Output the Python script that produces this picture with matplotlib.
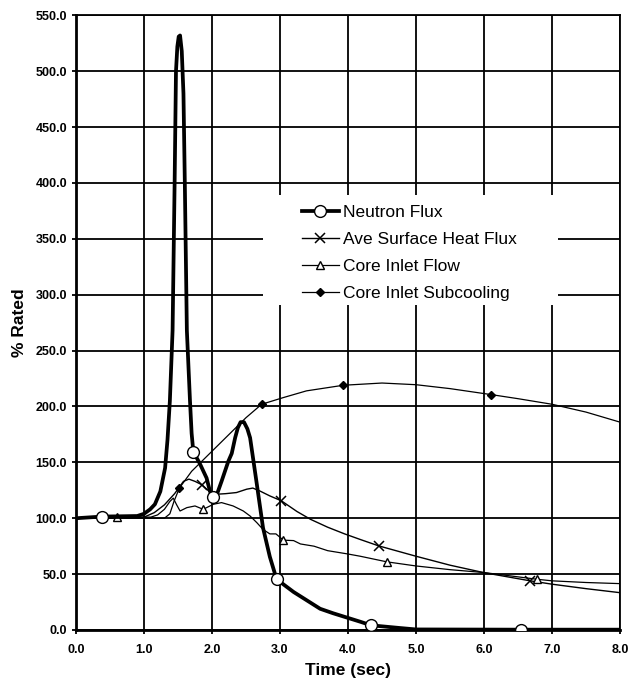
import matplotlib
matplotlib.use("Agg")
import matplotlib.pyplot as plt
from matplotlib.ticker import FormatStrFormatter, MultipleLocator
from matplotlib.patches import Rectangle
import numpy as np

plt.rcParams['font.family'] = ['Liberation Sans', 'DejaVu Sans']

# ---- data ----
flux_t = [0, 0.38, 0.9, 1.0, 1.09, 1.16, 1.24, 1.31, 1.345, 1.38, 1.42, 1.45, 1.47, 1.49,
          1.51, 1.53, 1.555, 1.58, 1.60, 1.63, 1.676, 1.70, 1.725, 1.82, 1.92, 1.97, 2.02,
          2.07, 2.14, 2.24, 2.29, 2.34, 2.38, 2.42, 2.47, 2.52, 2.56, 2.66, 2.75, 2.85, 2.95,
          3.2, 3.59, 3.78, 4.18, 4.34, 4.76, 5.0, 6.55, 8.0]
flux_v = [100, 101.5, 102, 104, 108, 112.5, 124, 145, 170, 205, 268, 400, 500, 522,
          531, 532, 518, 480, 400, 268, 205, 176, 159.5, 149, 136, 124, 119,
          121, 133, 151, 158, 172, 181, 186, 186, 180, 172, 130, 91.5, 65.6, 45.4,
          34, 19, 15, 7.4, 4.2, 1.8, 0.5, 0.3, 0.3]
flux_marks = [0.38, 1.725, 2.02, 2.95, 4.34, 6.55]

heat_t = [0, 1.0, 1.15, 1.3, 1.45, 1.58, 1.66, 1.75, 1.85, 1.95, 2.07, 2.2, 2.36, 2.51,
          2.6, 2.7, 2.85, 3.02, 3.25, 3.45, 3.7, 3.95, 4.18, 4.45, 5.0, 5.5, 6.0, 6.68,
          7.0, 7.5, 8.0]
heat_v = [100, 101, 105, 112, 122, 133, 135, 133, 130, 124.5, 121.5, 122, 123, 126,
          127, 124.5, 120, 115.6, 106, 99, 92, 86, 81, 75.3, 66, 58, 51.3, 44,
          41, 37, 33.4]
heat_marks = [1.85, 3.02, 4.45, 6.68]

flow_t = [0, 0.6, 1.1, 1.2, 1.3, 1.38, 1.43, 1.48, 1.53, 1.63, 1.75, 1.87, 2.02, 2.14,
          2.31, 2.46, 2.56, 2.66, 2.75, 2.85, 2.94, 3.05, 3.2, 3.3, 3.5, 3.7, 4.0, 4.18,
          4.57, 5.0, 5.5, 6.0, 6.78, 7.0, 7.5, 8.0]
flow_v = [100, 101, 101, 103, 108, 115, 118, 112, 106.5, 109.5, 111, 108, 112.5, 114,
          111, 106.5, 102, 96, 90, 86, 86, 80.4, 80, 77, 75, 71, 68, 66,
          61, 57.3, 54, 51.4, 45.4, 44, 42.5, 41.5]
flow_marks = [0.6, 1.87, 3.05, 4.57, 6.78]

sub_t = [0, 1.3, 1.38, 1.44, 1.52, 1.7, 2.0, 2.3, 2.5, 2.73, 3.05, 3.39, 3.93, 4.5, 5.0,
         5.5, 6.11, 6.5, 7.0, 7.5, 8.0]
sub_v = [100, 100, 104, 115, 127, 142, 160, 178, 190, 202, 208, 214, 219, 221, 219.5,
         216, 210.6, 207, 202, 195, 186]
sub_marks = [1.52, 2.73, 3.93, 6.11]

labels = ["Neutron Flux", "Ave Surface Heat Flux", "Core Inlet Flow", "Core Inlet Subcooling"]


def idx(ts, marks):
    return [int(np.argmin(np.abs(np.array(ts) - m))) for m in marks]


fig = plt.figure(figsize=(6.32, 6.83), dpi=100)
ax = fig.add_axes([0.1203, 0.0776, 0.981 - 0.1203, 0.9775 - 0.0776])

ax.plot(flux_t, flux_v, color='black', lw=2.7, marker='o', markersize=8.5,
        markerfacecolor='white', markeredgecolor='black', markeredgewidth=1.0,
        markevery=idx(flux_t, flux_marks), label=labels[0], zorder=5)
ax.plot(heat_t, heat_v, color='black', lw=1.0, marker='x', markersize=7,
        markeredgewidth=1.1, markevery=idx(heat_t, heat_marks), label=labels[1], zorder=4)
ax.plot(flow_t, flow_v, color='black', lw=0.9, marker='^', markersize=6,
        markerfacecolor='white', markeredgecolor='black', markeredgewidth=1.0,
        markevery=idx(flow_t, flow_marks), label=labels[2], zorder=4)
ax.plot(sub_t, sub_v, color='black', lw=0.9, marker='D', markersize=4.5,
        markerfacecolor='black', markevery=idx(sub_t, sub_marks), label=labels[3], zorder=4)

ax.set_xlim(0, 8)
ax.set_ylim(0, 550)
ax.xaxis.set_major_locator(MultipleLocator(1.0))
ax.yaxis.set_major_locator(MultipleLocator(50))
ax.xaxis.set_major_formatter(FormatStrFormatter('%.1f'))
ax.yaxis.set_major_formatter(FormatStrFormatter('%.1f'))
ax.grid(True, color='black', lw=1.3, zorder=1)
ax.set_axisbelow(True)
for s in ax.spines.values():
    s.set_color('black')
    s.set_linewidth(1.3)
ax.spines['left'].set_linewidth(2)
ax.spines['bottom'].set_linewidth(2)
ax.tick_params(direction='out', length=3, width=1.3, colors='black', labelsize=9)
ax.tick_params(axis='x', pad=7)
for lab in ax.get_xticklabels() + ax.get_yticklabels():
    lab.set_fontweight('bold')

ax.set_xlabel('Time (sec)', fontsize=12.5, fontweight='bold', labelpad=5)
ax.set_ylabel('% Rated', fontsize=12.5, fontweight='bold', labelpad=6)

# white legend area covering grid
ax.add_patch(Rectangle((0.344, 0.529), 0.886 - 0.344, 0.708 - 0.529,
                       transform=ax.transAxes, facecolor='white', edgecolor='none', zorder=2))
leg = ax.legend(loc='upper left', bbox_to_anchor=(0.4155, 0.692), frameon=False,
                fontsize=12.5, handlelength=2.1, handletextpad=0.25, labelspacing=0.68,
                borderaxespad=0, borderpad=0)

fig.savefig('out.png', dpi=100)
